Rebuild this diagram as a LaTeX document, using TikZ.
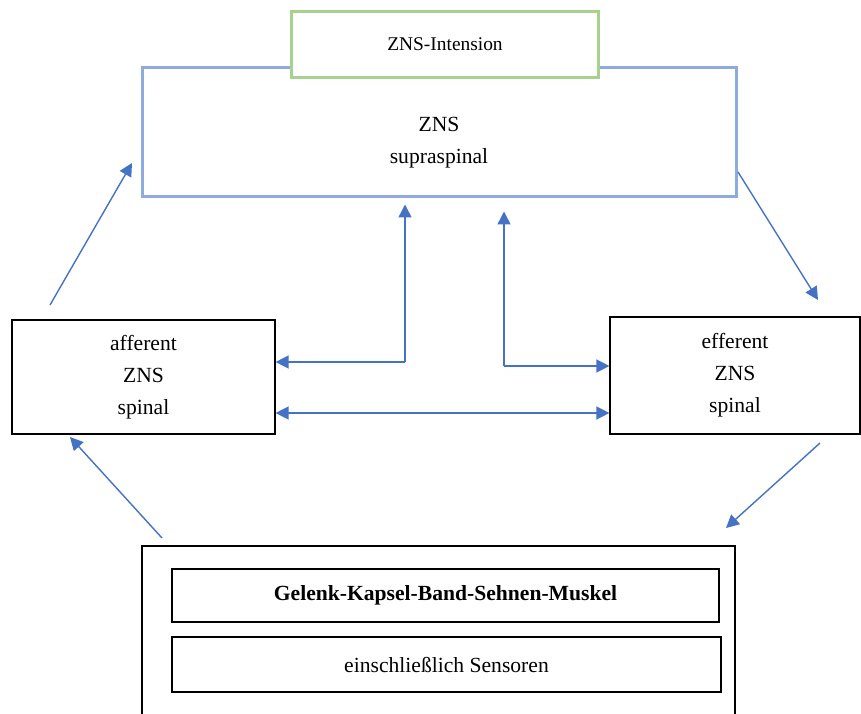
\documentclass[tikz,border=0pt]{standalone}
\usepackage{fontspec}
\setmainfont{Liberation Serif}
\usetikzlibrary{arrows.meta}
\definecolor{arrblue}{HTML}{4472C4}
\definecolor{boxblue}{HTML}{8FAADC}
\definecolor{boxgreen}{HTML}{A9D18E}
\tikzset{
  box/.style={draw, line width=0.6pt, align=center, inner sep=0pt, font=\fontsize{10.8pt}{16pt}\selectfont},
  topbox/.style={box, draw=boxblue, line width=1.5pt},
  intbox/.style={box, draw=boxgreen, line width=1.5pt, fill=white, font=\fontsize{9.7pt}{12pt}\selectfont},
  arr/.style={arrblue, line width=0.7pt, -{Triangle[length=6.5pt,width=6.5pt]}},
  darr/.style={arr, {Triangle[length=6.5pt,width=6.5pt]}-{Triangle[length=6.5pt,width=6.5pt]}},
}

\begin{document}
\begin{tikzpicture}[x=0.5pt,y=0.5pt]
  \clip (0,0) rectangle (861,713);
  % oben
  \node[topbox, minimum width=297pt, minimum height=64.5pt,
        label={[yshift=-5pt, align=center, font=\fontsize{10.8pt}{16pt}\selectfont]center:ZNS\\supraspinal}]
        (sup) at (439,580.5) {};
  \node[intbox, minimum width=153.5pt, minimum height=33pt] (int) at (445,668.5) {ZNS-Intension};
  % seiten
  \node[box, minimum width=131.5pt, minimum height=57pt] (aff) at (143.5,336) {afferent\\ZNS\\spinal};
  \node[box, minimum width=125pt, minimum height=58.5pt] (eff) at (735,337.5) {efferent\\ZNS\\spinal};
  % unten
  \node[box, minimum width=296.5pt, minimum height=107pt] (gkb) at (438.5,60) {};
  \node[box, minimum width=273.5pt, minimum height=26.5pt] (gel) at (445.5,117.5) {\bfseries Gelenk-Kapsel-Band-Sehnen-Muskel};
  \node[box, minimum width=274.5pt, minimum height=27.5pt] (sen) at (446.5,48.5) {einschließlich Sensoren};

  % diagonale pfeile
  \coordinate (a1) at (50,408);   \coordinate (b1) at (132,550);
  \coordinate (a2) at (738,541);  \coordinate (b2) at (818,413);
  \coordinate (a3) at (162,175);  \coordinate (b3) at (70,276);
  \coordinate (a4) at (820,270);  \coordinate (b4) at (726,185);
  \draw[arr] (a1) -- (b1);
  \draw[arr] (a2) -- (b2);
  \draw[arr] (a3) -- (b3);
  \draw[arr] (a4) -- (b4);

  % mitte
  \coordinate (j1) at (405,351);
  \coordinate (j2) at (504,347);
  \draw[arr, shorten >=3pt] (j1) -- (j1 |- sup.south);
  \draw[arr] (j1) -- (j1 -| aff.east);
  \draw[arr, shorten >=6.5pt] (j2) -- (j2 |- sup.south);
  \draw[arr] (j2) -- (j2 -| eff.west);
  \draw[darr] (aff.east |- 0,300) -- (eff.west |- 0,300);
\end{tikzpicture}
\end{document}
